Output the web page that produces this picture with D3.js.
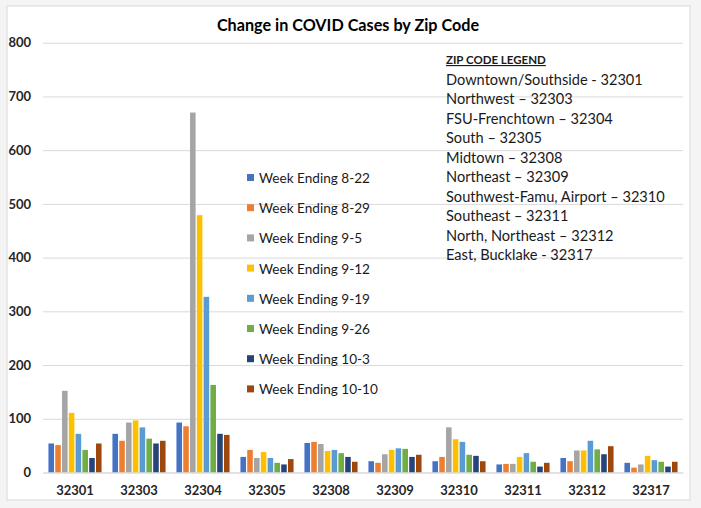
<!DOCTYPE html>
<html><head><meta charset="utf-8">
<script src="https://cdn.jsdelivr.net/npm/d3@7"></script>
<style>body{margin:0;background:#f4f4f4;}svg{display:block;}</style>
</head><body>
<script>
const zips = ["32301","32303","32304","32305","32308","32309","32310","32311","32312","32317"];
const seriesNames = ["Week Ending 8-22","Week Ending 8-29","Week Ending 9-5","Week Ending 9-12","Week Ending 9-19","Week Ending 9-26","Week Ending 10-3","Week Ending 10-10"];
const wk822  = [54, 72, 93, 29, 55, 21, 21, 15, 27, 18];
const wk829  = [51, 59, 86, 42, 57, 18, 29, 16, 21, 9];
const wk95   = [152, 93, 670, 27, 53, 34, 84, 16, 41, 15];
const wk912  = [111, 97, 479, 38, 40, 42, 62, 29, 41, 31];
const wk919  = [72, 84, 327, 27, 42, 45, 57, 36, 59, 23];
const wk926  = [42, 63, 163, 18, 36, 44, 33, 20, 43, 20];
const wk103  = [27, 54, 72, 15, 29, 29, 31, 11, 34, 11];
const wk1010 = [54, 59, 70, 25, 20, 33, 21, 18, 49, 20];
const seriesValues = [wk822, wk829, wk95, wk912, wk919, wk926, wk103, wk1010];
const colors = ["#4472C4","#ED7D31","#A5A5A5","#FFC000","#5B9BD5","#70AD47","#264478","#9E480E"];
const yTicks = [0,100,200,300,400,500,600,700,800];
const zipLegendTitle = "ZIP CODE LEGEND";
const zipLegend = ["Downtown/Southside - 32301","Northwest \u2013 32303","FSU-Frenchtown \u2013 32304","South \u2013 32305","Midtown \u2013 32308","Northeast \u2013 32309","Southwest-Famu, Airport \u2013 32310","Southeast \u2013 32311","North, Northeast \u2013 32312","East, Bucklake - 32317"];

const W = 701, H = 508;
const font = "Lato, 'Open Sans', sans-serif";
const svg = d3.select("body").append("svg").attr("width", W).attr("height", H);
svg.append("rect").attr("x",7).attr("y",6).attr("width",683).attr("height",494)
  .attr("fill","#fff").attr("stroke","#d9d9d9");

const x0 = d3.scaleBand().domain(zips).range([43, 683]).paddingInner(0.17).paddingOuter(0.085);
const x1 = d3.scaleBand().domain(d3.range(seriesNames.length)).range([0, x0.bandwidth()]).paddingInner(0.18);
const y = d3.scaleLinear().domain([0, 800]).range([472.5, 42.7]);

// gridlines
const yAxis = d3.axisLeft(y).tickValues(yTicks).tickSize(-(683-43)).tickPadding(12);
const gy = svg.append("g").attr("transform","translate(43,0)").call(yAxis);
gy.select(".domain").remove();
gy.selectAll(".tick line").attr("stroke","#d9d9d9");
gy.selectAll(".tick text").attr("font-family",font).attr("font-weight","bold").attr("font-size",13).attr("fill","#262626").attr("x",-12);

// bars
seriesValues.forEach((vals, si) => {
  svg.append("g").selectAll("rect").data(vals).join("rect")
    .attr("x", (d,i) => x0(zips[i]) + x1(si))
    .attr("y", d => y(d))
    .attr("width", x1.bandwidth())
    .attr("height", d => y(0) - y(d))
    .attr("fill", colors[si]);
});

// x axis
const xAxis = d3.axisBottom(x0).tickSize(0).tickPadding(13);
const gx = svg.append("g").attr("transform","translate(0,472.5)").call(xAxis);
gx.select(".domain").attr("stroke","#d9d9d9");
gx.selectAll(".tick text").attr("font-family",font).attr("font-weight","bold").attr("font-size",13).attr("fill","#262626");

// title
svg.append("text").attr("x",348).attr("y",31).attr("text-anchor","middle")
  .attr("font-family",font).attr("font-weight","bold").attr("font-size",16.2).attr("fill","#000")
  .text("Change in COVID Cases by Zip Code");

// series legend
const lg = svg.append("g");
seriesNames.forEach((n, i) => {
  const cy = 178 + i * 30.2;
  lg.append("rect").attr("x",247).attr("y",cy-4).attr("width",7).attr("height",7).attr("fill",colors[i]);
  lg.append("text").attr("x",259).attr("y",cy+5).attr("font-family",font).attr("font-size",13.6).attr("fill","#1a1a1a").text(n);
});

// zip legend
const zg = svg.append("g");
zg.append("text").attr("x",446).attr("y",64).attr("font-family",font).attr("font-weight","bold")
  .attr("font-size",11.5).attr("fill","#1a1a1a").attr("text-decoration","underline").text(zipLegendTitle);
zipLegend.forEach((t, i) => {
  zg.append("text").attr("x",446).attr("y",84.5 + i*19.5).attr("font-family",font).attr("font-size",14.6).attr("fill","#1a1a1a").text(t);
});
</script>
</body></html>
